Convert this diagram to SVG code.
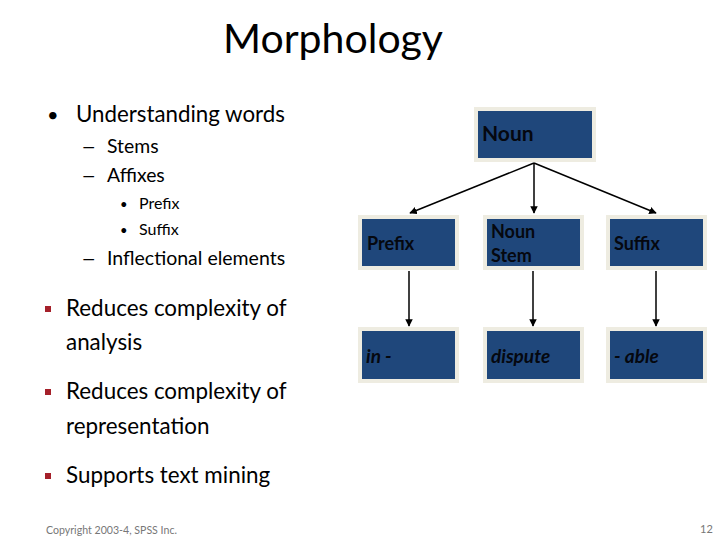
<svg xmlns="http://www.w3.org/2000/svg" width="720" height="540" viewBox="0 0 720 540">
<defs>
<style>
.t{font-family:Lato,"Open Sans","Liberation Sans",sans-serif;fill:#000}
.box{fill:#1f477b;stroke:#eeece1;stroke-width:4}
.bl{font-family:Lato,"Open Sans","Liberation Sans",sans-serif;font-weight:bold;fill:#05080f;font-size:18px}
.it{font-family:Lato,"Open Sans","Liberation Sans",sans-serif;font-style:italic;font-weight:bold;fill:#05080f;font-size:19px}
.con{stroke:#000;stroke-width:1.5;fill:none}
.sq{fill:#a5202a}
</style>
<marker id="ah" viewBox="0 0 10 10" refX="9" refY="5" markerWidth="5" markerHeight="5" orient="auto">
<path d="M0,0 L10,5 L0,10 z" fill="#000"/>
</marker>
</defs>
<rect width="720" height="540" fill="#fff"/>
<text class="t" x="333" y="53" font-size="41" text-anchor="middle">Morphology</text>
<g id="bullets">
<text class="t" x="47" y="122" font-size="20">•</text>
<text class="t" x="76" y="122" font-size="22.3">Understanding words</text>
<text class="t" x="81" y="153" font-size="19" transform="translate(81 0) scale(1.4 1) translate(-81 0)">–</text>
<text class="t" x="107" y="153" font-size="19.4">Stems</text>
<text class="t" x="81" y="182" font-size="19" transform="translate(81 0) scale(1.4 1) translate(-81 0)">–</text>
<text class="t" x="107" y="182" font-size="19.4">Affixes</text>
<text class="t" x="120" y="209" font-size="13">•</text>
<text class="t" x="139" y="209" font-size="16">Prefix</text>
<text class="t" x="120" y="235" font-size="13">•</text>
<text class="t" x="139" y="235" font-size="16">Suffix</text>
<text class="t" x="81" y="265" font-size="19" transform="translate(81 0) scale(1.4 1) translate(-81 0)">–</text>
<text class="t" x="107" y="265" font-size="19.5">Inflectional elements</text>
<rect class="sq" x="45" y="306" width="6" height="6"/>
<text class="t" x="66" y="316" font-size="22.4">Reduces complexity of</text>
<text class="t" x="66" y="350" font-size="22.4">analysis</text>
<rect class="sq" x="45" y="389" width="6" height="6"/>
<text class="t" x="66" y="399" font-size="22.4">Reduces complexity of</text>
<text class="t" x="66" y="434" font-size="22.4">representation</text>
<rect class="sq" x="45" y="473" width="6" height="6"/>
<text class="t" x="66" y="483" font-size="22.4">Supports text mining</text>
<text x="46" y="534" font-size="10.6" font-family="Lato,'Open Sans','Liberation Sans',sans-serif" fill="#777">Copyright 2003-4, SPSS Inc.</text>
<text x="700" y="533" font-size="11" font-family="Lato,'Open Sans','Liberation Sans',sans-serif" fill="#777">12</text>
</g>
<g id="connectors">
<line class="con" x1="534" y1="163" x2="410" y2="213" marker-end="url(#ah)"/>
<line class="con" x1="534" y1="163" x2="534" y2="213" marker-end="url(#ah)"/>
<line class="con" x1="534" y1="163" x2="656" y2="213" marker-end="url(#ah)"/>
<line class="con" x1="409" y1="271" x2="409" y2="326" marker-end="url(#ah)"/>
<line class="con" x1="533" y1="271" x2="533" y2="326" marker-end="url(#ah)"/>
<line class="con" x1="656" y1="271" x2="656" y2="326" marker-end="url(#ah)"/>
</g>
<g id="noun"><rect class="box" x="476" y="109" width="118" height="51"/><text class="bl" x="482" y="141" style="font-size:21px">Noun</text></g>
<g id="prefix"><rect class="box" x="360" y="217" width="97" height="51"/><text class="bl" x="367" y="250">Prefix</text></g>
<g id="nounstem"><rect class="box" x="485" y="217" width="97" height="51"/><text class="bl" x="491" y="238">Noun</text><text class="bl" x="491" y="262">Stem</text></g>
<g id="suffix"><rect class="box" x="608" y="217" width="97" height="51"/><text class="bl" x="614" y="250">Suffix</text></g>
<g id="in"><rect class="box" x="360" y="329" width="97" height="52"/><text class="it" x="366" y="363">in -</text></g>
<g id="dispute"><rect class="box" x="485" y="329" width="97" height="52"/><text class="it" x="491" y="363">dispute</text></g>
<g id="able"><rect class="box" x="608" y="329" width="97" height="52"/><text class="it" x="614" y="363">- able</text></g>
</svg>
